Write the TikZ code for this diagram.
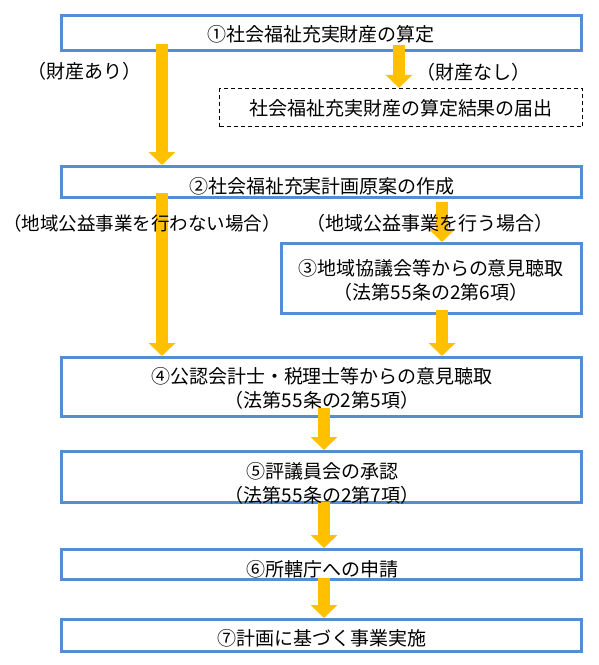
\documentclass[tikz,border=0pt]{standalone}
\usepackage{fontspec}
\setmainfont{Noto Sans CJK JP}
\usetikzlibrary{arrows.meta}
\definecolor{boxblue}{RGB}{84,141,212}
\definecolor{arrowyellow}{RGB}{255,192,0}
\begin{document}
\begin{tikzpicture}[x=1pt,y=-1pt,
  box/.style={draw=boxblue,line width=3pt,fill=white,inner sep=0pt,minimum width=520pt},
  dbox/.style={draw=black,line width=1.2pt,dash pattern=on 4pt off 3pt,inner sep=0pt},
  txt/.style={font=\fontsize{19}{24}\selectfont,align=center,inner sep=0pt},
  arr/.style={draw=arrowyellow,line width=12pt,-{Triangle[width=26pt,length=13pt]}}]
\useasboundingbox (0,0) rectangle (598,665);
\fill[white] (0,0) rectangle (598,665);
% boxes
\node[box,minimum height=35pt] (b1) at (321.5,33) {};
\node[dbox,minimum width=363pt,minimum height=38pt] (d) at (401,107.5) {};
\node[box,minimum height=31pt] (b2) at (321.5,182) {};
\node[box,minimum width=300pt,minimum height=70pt] (b3) at (431.5,278.5) {};
\node[box,minimum height=59pt] (b4) at (321.5,387) {};
\node[box,minimum height=51pt] (b5) at (321.5,477) {};
\node[box,minimum height=30pt] (b6) at (321.5,564.5) {};
\node[box,minimum height=32pt] (b7) at (321.5,635.5) {};
% arrows
\coordinate (s1) at (162,44);
\coordinate (s2) at (399,45);
\coordinate (s3) at (162,193);
\coordinate (s4) at (442,202);
\coordinate (s5) at (442,310);
\coordinate (s6) at (324,408);
\coordinate (s7) at (324,502);
\coordinate (s8) at (324,578);
\draw[arr] (s1) -- (s1 |- b2.north);
\draw[arr] (s2) -- (s2 |- d.north);
\draw[arr] (s3) -- (s3 |- b4.north);
\draw[arr] (s4) -- (s4 |- b3.north);
\draw[arr] (s5) -- (s5 |- b4.north);
\draw[arr] (s6) -- (s6 |- b5.north);
\draw[arr] (s7) -- (s7 |- b6.north);
\draw[arr] (s8) -- (s8 |- b7.north);
% texts
\node[txt] (t1) at (321,34) {①社会福祉充実財産の算定};
\node[txt] (td) at (401,108) {社会福祉充実財産の算定結果の届出};
\node[txt] (t2) at (322,186) {②社会福祉充実計画原案の作成};
\node[txt] (t3) at (431,280) {③地域協議会等からの意見聴取\\（法第55条の2第6項）};
\node[txt] (t4) at (322,388.5) {④公認会計士・税理士等からの意見聴取\\（法第55条の2第5項）};
\node[txt] (t5) at (322,483) {⑤評議員会の承認\\（法第55条の2第7項）};
\node[txt] (t6) at (322,569) {⑥所轄庁への申請};
\node[txt] (t7) at (322,638) {⑦計画に基づく事業実施};
% labels
\node[txt] (l1) at (84.5,71) {（財産あり）};
\node[txt] (l2) at (473,72) {（財産なし）};
\node[txt,font=\fontsize{18.5}{24}\selectfont] (l3) at (142,223) {（地域公益事業を行わない場合）};
\node[txt] (l4) at (430,223) {（地域公益事業を行う場合）};
\end{tikzpicture}
\end{document}
